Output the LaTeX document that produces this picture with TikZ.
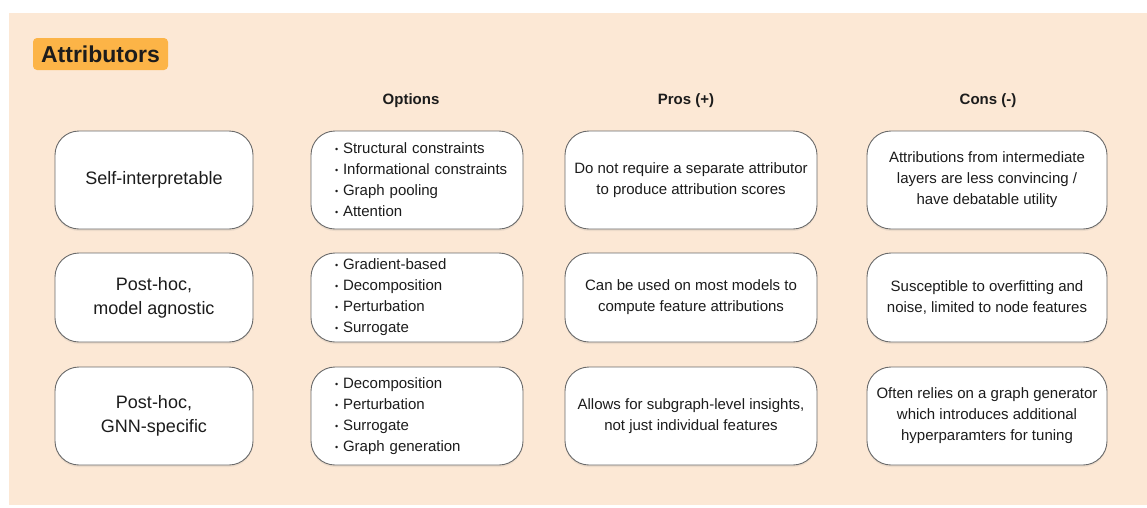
\documentclass[tikz,border=0pt]{standalone}
\usepackage{fontspec}
\setmainfont{Liberation Sans}
\usetikzlibrary{shadows}
\definecolor{peach}{HTML}{FCE8D5}
\definecolor{tagorange}{HTML}{FCB447}
\definecolor{ink}{HTML}{1C1C1C}
\definecolor{cardline}{HTML}{6A6A6A}
% one bulleted entry of an options list, kept on a single line
\newcommand{\optitem}[1]{\mbox{\makebox[8pt][l]{\raisebox{1pt}{\fontsize{9}{9}\selectfont •}}#1}}
\begin{document}
\begin{tikzpicture}[x=1pt,y=-1pt,
  card/.style={draw=cardline, line width=0.9pt, fill=white, rounded corners=24pt,
    text=ink, align=center, inner sep=0pt,
    drop shadow={opacity=0.12, shadow xshift=0pt, shadow yshift=-2pt},
    font=\fontsize{15}{21}\selectfont},
  kind/.style={card, minimum width=198pt, font=\fontsize{18}{24}\selectfont},
  opts/.style={card, align=left, text width=164pt, inner xsep=24pt, inner ysep=0pt},
  pros/.style={card, minimum width=252pt},
  cons/.style={card, minimum width=240pt},
  colhead/.style={text=ink, font=\fontsize{15}{18}\selectfont\bfseries},
  tall/.style={minimum height=98pt},
  short/.style={minimum height=89pt}]
\useasboundingbox (0,0) rectangle (1147,507);
% page and panel background
\fill[white] (0,0) rectangle (1147,507);
\fill[peach] (9,13) rectangle (1147,505);

% title tag
\node[fill=tagorange, rounded corners=4pt, minimum width=135pt, minimum height=32pt,
  inner sep=0pt, text=ink, font=\fontsize{23}{26}\selectfont\bfseries] (title) at (100.5,54) {Attributors};

% column headings
\node[colhead] (hopt) at (411,101) {Options};
\node[colhead] (hpro) at (686,101) {Pros (+)};
\node[colhead] (hcon) at (988,101) {Cons (-)};

% row 1
\node[kind, tall] (k1) at (154,180) {Self-interpretable};
\node[opts, tall] (o1) at (417,180) {\optitem{Structural constraints}\\ \optitem{Informational constraints}\\ \optitem{Graph pooling}\\ \optitem{Attention}};
\node[pros, tall] (p1) at (691,180) {Do not require a separate attributor\\ to produce attribution scores};
\node[cons, tall] (c1) at (987,180) {Attributions from intermediate\\ layers are less convincing /\\ have debatable utility};

% row 2
\node[kind, short] (k2) at (154,297.5) {Post-hoc,\\ model agnostic};
\node[opts, short] (o2) at (417,297.5) {\optitem{Gradient-based}\\ \optitem{Decomposition}\\ \optitem{Perturbation}\\ \optitem{Surrogate}};
\node[pros, short] (p2) at (691,297.5) {Can be used on most models to\\ compute feature attributions};
\node[cons, short] (c2) at (987,297.5) {Susceptible to overfitting and\\ noise, limited to node features};

% row 3
\node[kind, tall] (k3) at (154,416) {Post-hoc,\\ GNN-specific};
\node[opts, tall] (o3) at (417,416) {\optitem{Decomposition}\\ \optitem{Perturbation}\\ \optitem{Surrogate}\\ \optitem{Graph generation}};
\node[pros, tall] (p3) at (691,416) {Allows for subgraph-level insights,\\ not just individual features};
\node[cons, tall] (c3) at (987,416) {Often relies on a graph generator\\ which introduces additional\\ hyperparamters for tuning};
\end{tikzpicture}
\end{document}
